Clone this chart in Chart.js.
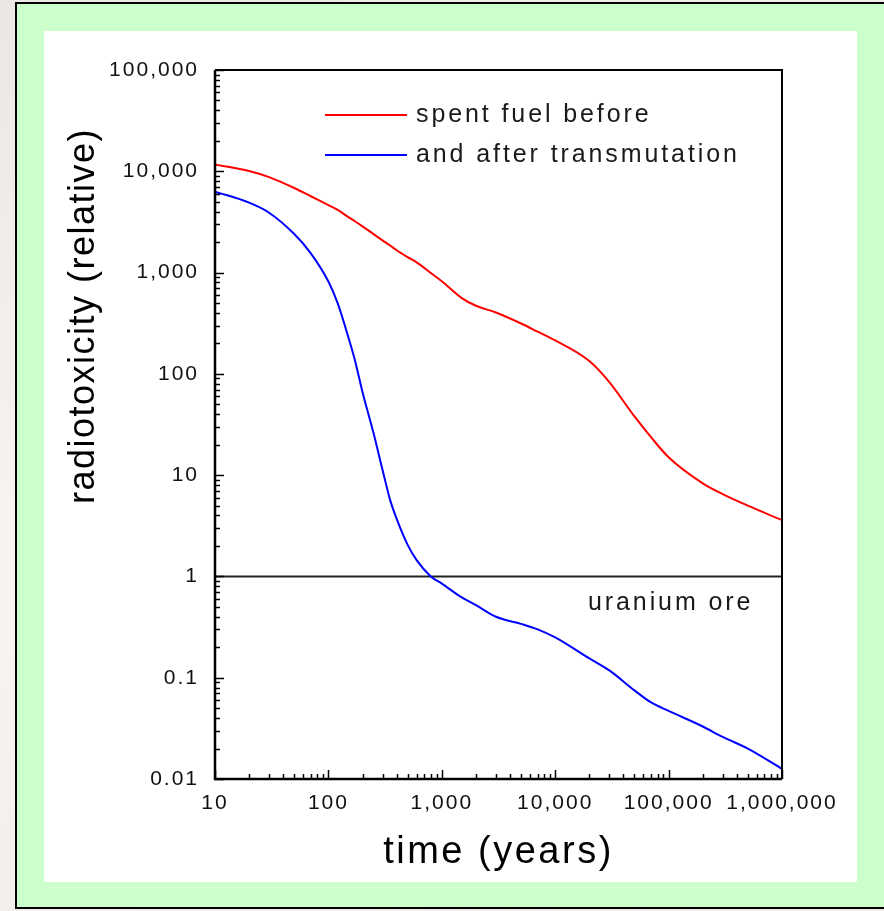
<!DOCTYPE html>
<html>
<head>
<meta charset="utf-8">
<script src="https://cdn.jsdelivr.net/npm/chart.js@4.4.1/dist/chart.umd.min.js"></script>
<style>
  html, body { margin: 0; padding: 0; }
  body {
    width: 884px; height: 911px; overflow: hidden; position: relative;
    background: linear-gradient(160deg, #ece7e2 0%, #f7f4f1 45%, #efebe7 100%);
  }
  #frame {
    position: absolute; left: 15px; top: 2px; width: 900px; height: 907px;
    box-sizing: border-box; border: 2px solid #000; background: #ccffcc;
  }
  #panel { position: absolute; left: 44px; top: 31px; width: 813px; height: 851px; background: #fff; }
  #chart { position: absolute; left: 0; top: 0; }
</style>
</head>
<body>
<div id="frame"></div>
<div id="panel"></div>
<canvas id="chart" width="884" height="911"></canvas>
<script>
// data (years vs relative radiotoxicity)
const years = [10, 20, 30, 50, 70, 100, 120, 150, 170, 200, 250, 300, 350, 400, 500, 600, 800,
  1000, 1500, 2000, 3000, 5000, 7000, 10000, 20000, 30000, 50000, 70000, 100000,
  200000, 300000, 500000, 1000000];
const spentFuelBefore = [11700, 10070, 8750, 6840, 5670, 4630, 4180, 3530, 3230, 2860, 2400, 2080, 1850, 1660, 1420, 1260, 990,
  820, 560, 470, 403, 314, 261, 214, 134, 83, 38, 23.7, 15,
  8.3, 6.5, 5.0, 3.6];
const afterTransmutation = [6300, 4900, 3900, 2400, 1550, 816, 507, 230, 141, 66, 26, 11.3, 5.7, 3.7, 2.05, 1.45, 1.0,
  0.85, 0.62, 0.52, 0.40, 0.34, 0.30, 0.25, 0.155, 0.118, 0.075, 0.057, 0.047,
  0.033, 0.026, 0.020, 0.0126];
const uraniumOre = 1;
const seriesNames = ['spent fuel before', 'and after transmutation'];
const seriesColors = ['#ff0000', '#0000ff'];
const xTicks = [10, 100, 1000, 10000, 100000, 1000000];
const yTicks = [0.01, 0.1, 1, 10, 100, 1000, 10000, 100000];

const FONT = '"Liberation Sans", Arial, sans-serif';
const fmt = v => v.toLocaleString('en-US', { maximumFractionDigits: 2 });

const pts = vals => years.map((x, i) => ({ x: x, y: vals[i] }));

// frame, inward ticks, legend, labels
const decor = {
  id: 'decor',
  beforeUpdate(chart) { chart.ctx.letterSpacing = '2px'; },
  beforeDraw(chart) { chart.ctx.letterSpacing = '2px'; },
  afterDraw(chart) {
    const ctx = chart.ctx;
    const { left, right, top, bottom } = chart.chartArea;
    const xs = chart.scales.x, ys = chart.scales.y;
    ctx.save();
    ctx.strokeStyle = '#000';

    // minor / major ticks pointing inward
    ctx.lineWidth = 1.5;
    yTicks.forEach((d, i) => {
      const n = i < yTicks.length - 1 ? 9 : 1;
      for (let m = 1; m <= n; m++) {
        const py = Math.round(ys.getPixelForValue(d * m)) + 0.5;
        ctx.beginPath(); ctx.moveTo(left, py); ctx.lineTo(left + (m === 1 ? 9 : 5), py); ctx.stroke();
      }
    });
    xTicks.forEach((d, i) => {
      const n = i < xTicks.length - 1 ? 9 : 1;
      for (let m = 1; m <= n; m++) {
        const px = Math.round(xs.getPixelForValue(d * m)) + 0.5;
        ctx.beginPath(); ctx.moveTo(px, bottom); ctx.lineTo(px, bottom - (m === 1 ? 9 : 5)); ctx.stroke();
      }
    });

    // plot frame
    ctx.lineWidth = 2;
    ctx.beginPath();
    ctx.moveTo(left, top); ctx.lineTo(right, top); ctx.lineTo(right, bottom);
    ctx.stroke();
    ctx.lineWidth = 2.5;
    ctx.beginPath();
    ctx.moveTo(left, top); ctx.lineTo(left, bottom); ctx.lineTo(right, bottom);
    ctx.stroke();

    // legend inside the plot
    ctx.font = '25px ' + FONT;
    ctx.letterSpacing = '2.9px';
    ctx.textBaseline = 'middle';
    ctx.textAlign = 'left';
    ctx.fillStyle = '#1a1a1a';
    seriesNames.forEach((name, i) => {
      const ly = top + 45 + i * 40;
      ctx.strokeStyle = seriesColors[i];
      ctx.lineWidth = 2;
      ctx.beginPath(); ctx.moveTo(left + 110, ly); ctx.lineTo(left + 192, ly); ctx.stroke();
      ctx.fillText(name, left + 201, ly);
    });

    // uranium ore label
    ctx.fillText('uranium ore', 588, ys.getPixelForValue(uraniumOre) + 27);

    // axis titles
    ctx.fillStyle = '#000';
    ctx.textAlign = 'center';
    ctx.font = '38px ' + FONT;
    ctx.letterSpacing = '2.5px';
    ctx.fillText('time (years)', (left + right) / 2, 853);
    ctx.translate(84, 316);
    ctx.rotate(-Math.PI / 2);
    ctx.font = '36px ' + FONT;
    ctx.letterSpacing = '1.5px';
    ctx.fillText('radiotoxicity (relative)', 0, 0);
    ctx.restore();
    ctx.letterSpacing = '2px';
  }
};

new Chart(document.getElementById('chart'), {
  type: 'line',
  data: {
    datasets: [
      { label: seriesNames[0], data: pts(spentFuelBefore), borderColor: seriesColors[0], borderWidth: 2,
        pointRadius: 0, cubicInterpolationMode: 'monotone' },
      { label: seriesNames[1], data: pts(afterTransmutation), borderColor: seriesColors[1], borderWidth: 2,
        pointRadius: 0, cubicInterpolationMode: 'monotone' },
      { label: 'uranium ore', data: [{ x: xTicks[0], y: uraniumOre }, { x: xTicks[xTicks.length - 1], y: uraniumOre }],
        borderColor: '#222', borderWidth: 2, pointRadius: 0 }
    ]
  },
  options: {
    responsive: false,
    animation: false,
    devicePixelRatio: 1,
    layout: { padding: { left: 0, top: 70, right: 102, bottom: 0 } },
    plugins: { legend: { display: false }, tooltip: { enabled: false } },
    scales: {
      x: {
        type: 'logarithmic', min: xTicks[0], max: xTicks[xTicks.length - 1],
        grid: { display: false }, border: { display: false },
        afterBuildTicks: s => { s.ticks = xTicks.map(v => ({ value: v })); },
        afterFit: s => { s.height = 132; s.paddingLeft = 0; s.paddingRight = 0; },
        ticks: { autoSkip: false, maxRotation: 0, padding: 4, color: '#111',
          font: { family: FONT, size: 21 }, callback: v => fmt(v) }
      },
      y: {
        type: 'logarithmic', min: yTicks[0], max: yTicks[yTicks.length - 1],
        grid: { display: false }, border: { display: false },
        afterBuildTicks: s => { s.ticks = yTicks.map(v => ({ value: v })); },
        afterFit: s => { s.width = 215; s.paddingTop = 0; s.paddingBottom = 0; },
        ticks: { autoSkip: false, padding: 8, color: '#111',
          font: { family: FONT, size: 21 }, callback: v => fmt(v) }
      }
    }
  },
  plugins: [decor]
});
</script>
</body>
</html>
